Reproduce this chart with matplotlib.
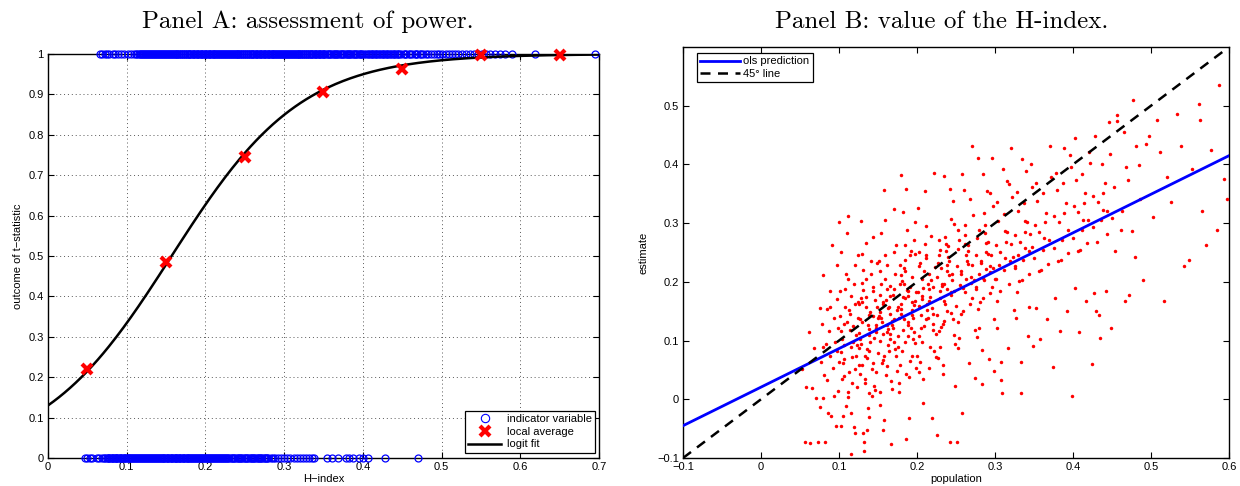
import matplotlib
matplotlib.use("Agg")
import matplotlib.pyplot as plt
import numpy as np
from matplotlib.lines import Line2D

plt.rcParams['font.family'] = ['Liberation Sans', 'DejaVu Sans']
plt.rcParams['font.size'] = 8

# ---------------- Panel A data ----------------
# H-index values of the indicator variable observed at 1 (rejections)
ind_one_x = [0.066, 0.069, 0.072, 0.075, 0.078, 0.082, 0.085, 0.089, 0.093, 0.097,
             0.101, 0.105, 0.109, 0.112, 0.115, 0.118, 0.121, 0.123, 0.126, 0.128,
             0.131, 0.134, 0.136, 0.139, 0.141, 0.144, 0.146, 0.149, 0.151, 0.154,
             0.156, 0.159, 0.161, 0.164, 0.166, 0.169, 0.171, 0.174, 0.176, 0.179,
             0.181, 0.184, 0.186, 0.189, 0.191, 0.194, 0.196, 0.199, 0.201, 0.204,
             0.206, 0.209, 0.211, 0.214, 0.216, 0.219, 0.221, 0.224, 0.226, 0.229,
             0.231, 0.234, 0.236, 0.239, 0.241, 0.244, 0.246, 0.249, 0.251, 0.254,
             0.256, 0.259, 0.261, 0.264, 0.266, 0.269, 0.271, 0.274, 0.276, 0.279,
             0.281, 0.284, 0.286, 0.289, 0.291, 0.294, 0.296, 0.299, 0.301, 0.304,
             0.306, 0.309, 0.311, 0.314, 0.316, 0.319, 0.321, 0.324, 0.326, 0.329,
             0.331, 0.334, 0.336, 0.339, 0.341, 0.344, 0.346, 0.349, 0.351, 0.354,
             0.357, 0.36, 0.363, 0.366, 0.369, 0.372, 0.375, 0.378, 0.381, 0.384,
             0.387, 0.39, 0.393, 0.396, 0.399, 0.402, 0.406, 0.41, 0.413, 0.417,
             0.42, 0.424, 0.427, 0.431, 0.434, 0.438, 0.441, 0.445, 0.448, 0.452,
             0.455, 0.459, 0.462, 0.466, 0.469, 0.473, 0.476, 0.48, 0.483, 0.487,
             0.49, 0.494, 0.497, 0.501, 0.505, 0.509, 0.513, 0.517, 0.521, 0.526,
             0.531, 0.536, 0.541, 0.546, 0.551, 0.556, 0.561, 0.568, 0.574, 0.581,
             0.59, 0.619, 0.695,
             0.1135, 0.1165, 0.1195, 0.122, 0.1245, 0.127, 0.1295, 0.132, 0.1345, 0.137,
             0.1395, 0.142, 0.1445, 0.147, 0.1495, 0.152, 0.1545, 0.157, 0.1595, 0.162,
             0.1645, 0.167, 0.1695, 0.172, 0.1745, 0.177, 0.1795, 0.182, 0.1845, 0.187,
             0.1895, 0.192, 0.1945, 0.197, 0.1995, 0.202, 0.2045, 0.207, 0.2095, 0.212,
             0.2145, 0.217, 0.2195, 0.222, 0.2245, 0.227, 0.2295, 0.232, 0.2345, 0.237,
             0.2395, 0.242, 0.2445, 0.247, 0.2495, 0.252, 0.2545, 0.257, 0.2595, 0.262,
             0.2645, 0.267, 0.2695, 0.272, 0.2745, 0.277, 0.2795, 0.282, 0.2845, 0.287,
             0.2895, 0.292, 0.2945, 0.297, 0.2995, 0.302, 0.3045, 0.307, 0.3095, 0.312,
             0.3145, 0.317, 0.3195, 0.322, 0.3245, 0.327, 0.3295, 0.332, 0.3345, 0.337,
             0.3395, 0.342, 0.3445, 0.347, 0.3495, 0.352, 0.3555, 0.3585, 0.3615, 0.3645,
             0.3675, 0.3705, 0.3735, 0.3765, 0.3795, 0.3825, 0.3855, 0.3885, 0.3915, 0.3945,
             0.3975, 0.404, 0.408, 0.4115, 0.415, 0.4185, 0.422, 0.4255, 0.429, 0.4325,
             0.436, 0.4395, 0.443, 0.4465, 0.4535, 0.4605, 0.4675, 0.4745]
# H-index values of the indicator variable observed at 0
ind_zero_x = [0.047, 0.05, 0.053, 0.056, 0.062, 0.065, 0.068, 0.071, 0.073, 0.076,
              0.078, 0.081, 0.083, 0.086, 0.088, 0.091, 0.093, 0.096, 0.098, 0.101,
              0.103, 0.106, 0.108, 0.111, 0.113, 0.116, 0.118, 0.121, 0.123, 0.126,
              0.128, 0.131, 0.133, 0.136, 0.138, 0.141, 0.143, 0.146, 0.148, 0.151,
              0.153, 0.156, 0.158, 0.161, 0.163, 0.166, 0.168, 0.171, 0.173, 0.176,
              0.178, 0.181, 0.183, 0.186, 0.188, 0.191, 0.193, 0.196, 0.198, 0.201,
              0.203, 0.206, 0.208, 0.211, 0.213, 0.216, 0.218, 0.221, 0.223, 0.226,
              0.229, 0.232, 0.235, 0.238, 0.241, 0.244, 0.247, 0.25, 0.253, 0.256,
              0.259, 0.262, 0.265, 0.268, 0.271, 0.274, 0.277, 0.28, 0.283, 0.286,
              0.289, 0.292, 0.296, 0.3, 0.304, 0.308, 0.312, 0.316, 0.32, 0.324,
              0.328, 0.332, 0.335, 0.338, 0.355, 0.361, 0.368, 0.378, 0.382, 0.388,
              0.395, 0.4, 0.406, 0.428, 0.47,
              0.0745, 0.077, 0.0795, 0.082, 0.0845, 0.087, 0.0895, 0.092, 0.0945, 0.097,
              0.0995, 0.102, 0.1045, 0.107, 0.1095, 0.112, 0.1145, 0.117, 0.1195, 0.122,
              0.1245, 0.127, 0.1295, 0.132, 0.1345, 0.137, 0.1395, 0.142, 0.1445, 0.147,
              0.1495, 0.152, 0.1545, 0.157, 0.1595, 0.162, 0.1645, 0.167, 0.1695, 0.172,
              0.1745, 0.177, 0.1795, 0.182, 0.1845, 0.187, 0.1895, 0.192, 0.1945, 0.197,
              0.1995, 0.202, 0.2045, 0.207, 0.2095, 0.212, 0.2145, 0.217, 0.2195, 0.222,
              0.2245, 0.2275, 0.2305, 0.2335, 0.2365, 0.2395, 0.2425, 0.2455, 0.2485, 0.2515,
              0.2545, 0.2575, 0.2605, 0.2635, 0.2665, 0.2695, 0.2725, 0.2755, 0.2785]

local_x = [0.05, 0.15, 0.25, 0.35, 0.45, 0.55, 0.65]
local_avg = [0.22, 0.484, 0.746, 0.905, 0.962, 0.998, 0.998]

# logit fit coefficients: p = 1 / (1 + exp(-(a + b*h)))
logit_a = -1.90
logit_b = 12.1

# ---------------- Panel B data ----------------
population = [
    0.053, 0.056, 0.058, 0.061, 0.063, 0.066, 0.068, 0.071, 0.073, 0.075,
    0.076, 0.077, 0.078, 0.079, 0.080, 0.081, 0.082, 0.083, 0.084, 0.085,
    0.086, 0.087, 0.088, 0.089, 0.090, 0.091, 0.092, 0.093, 0.094, 0.095,
    0.096, 0.097, 0.097, 0.098, 0.099, 0.099, 0.100, 0.100, 0.088, 0.079,
    0.101, 0.104, 0.102, 0.108, 0.106, 0.111, 0.103, 0.114, 0.109, 0.117,
    0.112, 0.119, 0.105, 0.121, 0.107, 0.123, 0.115, 0.110, 0.118, 0.124,
    0.102, 0.116, 0.113, 0.120, 0.105, 0.122, 0.108, 0.125, 0.111, 0.119,
    0.103, 0.115, 0.121, 0.107, 0.124, 0.110, 0.117, 0.101, 0.113, 0.122,
    0.106, 0.118, 0.112, 0.124, 0.104, 0.120, 0.109, 0.116, 0.123, 0.114,
    0.126, 0.131, 0.128, 0.136, 0.133, 0.141, 0.138, 0.144, 0.129, 0.147,
    0.132, 0.149, 0.127, 0.139, 0.135, 0.146, 0.130, 0.143, 0.137, 0.150,
    0.128, 0.134, 0.142, 0.126, 0.148, 0.139, 0.131, 0.145, 0.136, 0.140,
    0.133, 0.127, 0.144, 0.138, 0.130, 0.147, 0.135, 0.142, 0.129, 0.149,
    0.137, 0.125, 0.143, 0.132, 0.146, 0.128, 0.140, 0.134, 0.148, 0.139,
    0.131, 0.145, 0.127, 0.141, 0.136, 0.150, 0.133, 0.144, 0.129, 0.138,
    0.151, 0.156, 0.153, 0.161, 0.158, 0.166, 0.163, 0.171, 0.168, 0.174,
    0.154, 0.169, 0.152, 0.164, 0.159, 0.172, 0.157, 0.167, 0.162, 0.175,
    0.155, 0.160, 0.170, 0.153, 0.165, 0.173, 0.158, 0.163, 0.151, 0.168,
    0.157, 0.171, 0.162, 0.154, 0.166, 0.159, 0.174, 0.152, 0.169, 0.161,
    0.164, 0.156, 0.172, 0.160, 0.167, 0.153, 0.170, 0.158, 0.165, 0.155,
    0.159, 0.168, 0.152, 0.173, 0.163, 0.157, 0.166, 0.171, 0.154, 0.161,
    0.176, 0.181, 0.178, 0.186, 0.183, 0.191, 0.188, 0.196, 0.193, 0.199,
    0.179, 0.194, 0.177, 0.189, 0.184, 0.197, 0.182, 0.192, 0.187, 0.200,
    0.180, 0.185, 0.195, 0.178, 0.190, 0.198, 0.183, 0.188, 0.176, 0.193,
    0.182, 0.196, 0.187, 0.179, 0.191, 0.184, 0.199, 0.177, 0.194, 0.186,
    0.189, 0.181, 0.197, 0.185, 0.192, 0.178, 0.195, 0.183, 0.190, 0.180,
    0.184, 0.193, 0.177, 0.198, 0.188, 0.182, 0.191, 0.196, 0.179, 0.186,
    0.201, 0.206, 0.203, 0.211, 0.208, 0.216, 0.213, 0.221, 0.218, 0.224,
    0.204, 0.219, 0.202, 0.214, 0.209, 0.222, 0.207, 0.217, 0.212, 0.225,
    0.205, 0.210, 0.220, 0.203, 0.215, 0.223, 0.208, 0.213, 0.201, 0.218,
    0.207, 0.221, 0.212, 0.204, 0.216, 0.209, 0.224, 0.202, 0.219, 0.211,
    0.214, 0.206, 0.222, 0.210, 0.217, 0.203, 0.220, 0.208, 0.215, 0.205,
    0.226, 0.231, 0.228, 0.236, 0.233, 0.241, 0.238, 0.246, 0.243, 0.249,
    0.229, 0.244, 0.227, 0.239, 0.234, 0.247, 0.232, 0.242, 0.237, 0.250,
    0.230, 0.235, 0.245, 0.228, 0.240, 0.248, 0.233, 0.238, 0.226, 0.243,
    0.232, 0.246, 0.237, 0.229, 0.241, 0.234, 0.249, 0.227, 0.244, 0.236,
    0.239, 0.231, 0.247, 0.235, 0.242, 0.228, 0.245, 0.233, 0.240, 0.230,
    0.251, 0.256, 0.253, 0.261, 0.258, 0.266, 0.263, 0.271, 0.268, 0.274,
    0.254, 0.269, 0.252, 0.264, 0.259, 0.272, 0.257, 0.267, 0.262, 0.275,
    0.255, 0.260, 0.270, 0.253, 0.265, 0.273, 0.258, 0.263, 0.251, 0.268,
    0.257, 0.271, 0.262, 0.254, 0.266, 0.259, 0.274, 0.252, 0.269, 0.261,
    0.276, 0.281, 0.278, 0.286, 0.283, 0.291, 0.288, 0.296, 0.293, 0.299,
    0.279, 0.294, 0.277, 0.289, 0.284, 0.297, 0.282, 0.292, 0.287, 0.300,
    0.280, 0.285, 0.295, 0.278, 0.290, 0.298, 0.283, 0.288, 0.276, 0.293,
    0.282, 0.296, 0.287, 0.279, 0.291, 0.284, 0.299, 0.277, 0.294, 0.286,
    0.301, 0.306, 0.303, 0.311, 0.308, 0.316, 0.313, 0.321, 0.318, 0.324,
    0.304, 0.319, 0.302, 0.314, 0.309, 0.322, 0.307, 0.317, 0.312, 0.325,
    0.305, 0.310, 0.320, 0.303, 0.315, 0.323, 0.308, 0.313, 0.301, 0.318,
    0.326, 0.331, 0.328, 0.336, 0.333, 0.341, 0.338, 0.346, 0.343, 0.349,
    0.329, 0.344, 0.327, 0.339, 0.334, 0.347, 0.332, 0.342, 0.337, 0.350,
    0.330, 0.335, 0.345, 0.328, 0.340, 0.348, 0.333, 0.338, 0.326, 0.343,
    0.351, 0.356, 0.353, 0.361, 0.358, 0.366, 0.363, 0.371, 0.368, 0.374,
    0.354, 0.369, 0.352, 0.364, 0.359, 0.372, 0.357, 0.367, 0.362, 0.375,
    0.376, 0.381, 0.378, 0.386, 0.383, 0.391, 0.388, 0.396, 0.393, 0.399,
    0.379, 0.394, 0.377, 0.389, 0.384, 0.397, 0.382, 0.392, 0.387, 0.400,
    0.401, 0.406, 0.403, 0.411, 0.408, 0.416, 0.413, 0.421, 0.418, 0.424,
    0.404, 0.419, 0.402, 0.414, 0.409, 0.422, 0.407, 0.417, 0.412, 0.425,
    0.426, 0.431, 0.428, 0.436, 0.433, 0.441, 0.438, 0.446, 0.443, 0.449,
    0.427, 0.444, 0.429, 0.439, 0.434, 0.447, 0.432, 0.442, 0.437, 0.450,
    0.452, 0.457, 0.461, 0.465, 0.468, 0.472, 0.477, 0.481, 0.486, 0.490,
    0.454, 0.456, 0.463, 0.467, 0.470, 0.475, 0.479, 0.484, 0.494, 0.498,
    0.503, 0.508, 0.512, 0.517, 0.520, 0.526, 0.533, 0.539, 0.542, 0.549,
    0.553, 0.561, 0.563, 0.565, 0.571, 0.577, 0.585, 0.587, 0.594, 0.598,
]
estimate = [
    0.052, -0.073, 0.021, 0.115, -0.074, 0.019, 0.087, 0.002, -0.073, 0.156,
    -0.013, 0.064, 0.128, 0.002, 0.211, 0.041, -0.072, 0.095, 0.153, 0.033,
    -0.023, 0.117, 0.185, 0.073, -0.028, 0.262, 0.054, 0.139, 0.006, 0.098,
    -0.046, 0.171, 0.083, 0.228, 0.014, 0.121, 0.063, 0.302, 0.158, 0.089,
    0.142, 0.035, -0.046, 0.187, 0.093, 0.004, 0.251, 0.118, -0.012, 0.072,
    0.205, -0.047, 0.061, 0.163, 0.128, 0.021, -0.093, 0.283, 0.097, 0.138,
    0.081, 0.176, 0.046, 0.229, -0.028, 0.109, 0.157, 0.058, 0.013, 0.196,
    0.117, 0.089, -0.058, 0.068, 0.245, 0.132, 0.027, 0.184, 0.152, 0.074,
    0.039, 0.124, 0.312, 0.166, 0.102, 0.051, 0.214, -0.024, 0.093, 0.145,
    0.113, -0.057, 0.172, 0.086, 0.027, 0.236, 0.144, 0.062, 0.198, 0.121,
    -0.088, 0.157, 0.043, 0.109, 0.267, 0.015, 0.131, 0.184, -0.014, 0.078,
    0.095, 0.205, 0.052, 0.163, 0.127, -0.031, 0.221, 0.104, 0.071, 0.149,
    0.034, 0.136, 0.191, 0.083, 0.248, 0.115, 0.175, 0.006, 0.058, 0.232,
    0.126, 0.088, 0.142, -0.073, 0.169, 0.304, 0.098, 0.157, 0.047, 0.119,
    0.186, 0.022, 0.102, 0.213, -0.052, 0.139, 0.074, 0.276, 0.165, 0.011,
    0.142, 0.067, 0.218, 0.115, -0.035, 0.176, 0.093, 0.251, 0.134, 0.048,
    0.197, 0.121, 0.012, 0.158, 0.306, 0.085, 0.163, -0.076, 0.229, 0.107,
    0.131, 0.041, 0.188, 0.099, 0.146, 0.262, 0.074, 0.119, 0.235, 0.017,
    0.166, 0.137, 0.057, 0.284, 0.102, 0.205, 0.152, -0.009, 0.178, 0.127,
    0.083, 0.111, 0.214, 0.169, 0.031, 0.148, 0.097, 0.357, 0.193, 0.061,
    0.245, 0.126, 0.178, 0.073, 0.156, -0.052, 0.112, 0.324, 0.139, 0.187,
    0.157, 0.083, 0.229, -0.068, 0.136, 0.192, 0.108, 0.271, 0.165, 0.054,
    0.212, 0.143, 0.028, 0.176, 0.098, 0.247, 0.319, 0.121, 0.186, 0.073,
    0.145, 0.262, 0.102, 0.197, 0.038, 0.168, 0.223, 0.131, 0.089, 0.208,
    0.174, 0.115, 0.289, 0.154, 0.066, 0.238, 0.183, 0.012, 0.152, 0.358,
    0.127, 0.201, 0.096, 0.172, 0.253, 0.058, 0.139, 0.196, -0.032, 0.163,
    0.218, 0.074, 0.138, 0.302, 0.185, 0.118, 0.246, 0.161, 0.382, 0.043,
    0.183, 0.097, 0.251, 0.136, -0.006, 0.213, 0.162, 0.118, 0.278, 0.072,
    0.232, 0.155, 0.047, 0.196, 0.124, 0.386, 0.171, 0.089, 0.241, -0.061,
    0.143, 0.264, 0.191, 0.108, 0.167, 0.226, 0.034, 0.152, 0.326, 0.203,
    0.176, 0.129, 0.295, 0.063, 0.187, 0.218, 0.112, 0.159, -0.032, 0.245,
    0.138, 0.205, 0.082, 0.355, 0.174, 0.227, 0.146, 0.189, 0.054, 0.121,
    0.208, 0.123, 0.271, 0.162, 0.043, 0.236, 0.187, 0.338, 0.147, 0.095,
    0.255, 0.182, 0.071, 0.219, 0.134, 0.298, 0.196, -0.072, 0.265, 0.159,
    0.172, 0.381, 0.213, 0.116, 0.243, 0.184, 0.058, 0.228, 0.143, 0.307,
    0.193, 0.137, 0.253, 0.089, 0.211, 0.167, 0.023, 0.232, 0.178, 0.276,
    0.151, 0.224, 0.109, 0.197, 0.359, 0.246, 0.203, 0.128, 0.261, 0.185,
    0.227, 0.146, 0.289, 0.183, -0.023, 0.252, 0.205, 0.432, 0.163, 0.118,
    0.271, 0.198, 0.087, 0.236, 0.151, 0.314, 0.213, 0.061, 0.279, 0.187,
    0.194, 0.357, 0.228, 0.132, 0.262, 0.204, 0.384, 0.246, -0.073, 0.341,
    0.218, 0.172, 0.265, 0.104, 0.231, 0.189, 0.037, 0.256, 0.209, 0.296,
    0.245, 0.166, 0.411, 0.203, 0.084, 0.268, 0.222, 0.411, 0.181, 0.136,
    0.288, 0.217, 0.106, 0.251, 0.172, 0.329, 0.232, 0.069, 0.297, 0.205,
    0.213, 0.384, 0.246, 0.153, 0.355, 0.223, 0.026, 0.266, 0.192, 0.351,
    0.236, 0.191, 0.283, 0.122, 0.248, 0.207, 0.049, 0.275, 0.227, 0.317,
    0.262, 0.184, 0.336, 0.221, 0.033, 0.285, 0.241, 0.428, 0.196, 0.152,
    0.304, 0.236, 0.121, 0.268, 0.011, 0.345, 0.251, 0.088, 0.316, 0.223,
    0.229, 0.392, 0.264, 0.168, 0.372, 0.242, 0.063, 0.287, 0.205, 0.367,
    0.279, 0.201, 0.353, 0.238, 0.063, 0.302, 0.257, 0.401, 0.214, 0.091,
    0.321, 0.253, 0.138, 0.285, 0.204, 0.362, 0.268, 0.107, 0.334, 0.241,
    0.246, 0.409, 0.282, 0.183, 0.388, 0.259, 0.011, 0.304, 0.227, 0.158,
    0.296, 0.218, 0.369, 0.255, 0.103, 0.318, 0.274, 0.432, 0.231, 0.055,
    0.338, 0.272, 0.156, 0.302, 0.221, 0.379, 0.285, 0.136, 0.351, 0.258,
    0.313, 0.236, 0.386, 0.272, 0.116, 0.335, 0.428, 0.416, 0.249, 0.006,
    0.356, 0.289, 0.173, 0.318, 0.238, 0.396, 0.302, 0.151, 0.368, 0.275,
    0.329, 0.252, 0.445, 0.288, 0.115, 0.351, 0.306, 0.421, 0.266, 0.060,
    0.373, 0.306, 0.189, 0.335, 0.255, 0.403, 0.319, 0.167, 0.384, 0.293,
    0.346, 0.268, 0.449, 0.305, 0.144, 0.368, 0.323, 0.472, 0.282, 0.121,
    0.181, 0.321, 0.151, 0.352, 0.104, 0.418, 0.336, 0.184, 0.401, 0.309,
    0.362, 0.484, 0.288, 0.455, 0.396, 0.178, 0.510, 0.432, 0.341, 0.203,
    0.252, 0.474, 0.321, 0.167, 0.374, 0.287, 0.243, 0.399, 0.435, 0.449,
    0.311, 0.476, 0.421, 0.167, 0.379, 0.336, 0.486, 0.431, 0.227, 0.237,
    0.392, 0.503, 0.476, 0.321, 0.263, 0.425, 0.288, 0.535, 0.375, 0.341,
]

# ols prediction line: estimate = ols_a + ols_b * population
ols_a = 0.0207
ols_b = 0.657

W, H = 1240, 486
fig = plt.figure(figsize=(W / 100, H / 100), dpi=100)
axA = fig.add_axes([48 / W, 28 / H, 551 / W, 404 / H])
axB = fig.add_axes([683 / W, 28 / H, 546 / W, 411 / H])

# ---------- Panel A ----------
axA.plot(ind_one_x, np.ones(len(ind_one_x)), 'o', mfc='none', mec='blue',
         ms=5, mew=0.9, clip_on=False, zorder=3)
axA.plot(ind_zero_x, np.zeros(len(ind_zero_x)), 'o', mfc='none', mec='blue',
         ms=5, mew=0.9, clip_on=False, zorder=3)
h = np.linspace(0, 0.7, 300)
axA.plot(h, 1 / (1 + np.exp(-(logit_a + logit_b * h))), color='k', lw=1.8, zorder=4)
axA.plot(local_x, local_avg, 'x', color='red', ms=7, mew=3, clip_on=False, zorder=5)

axA.set_xlim(0, 0.7)
axA.set_ylim(0, 1)
axA.set_xticks(np.arange(0, 0.71, 0.1))
axA.set_xticklabels(['0', '0.1', '0.2', '0.3', '0.4', '0.5', '0.6', '0.7'])
axA.set_yticks(np.arange(0, 1.01, 0.1))
axA.set_yticklabels(['0', '0.1', '0.2', '0.3', '0.4', '0.5', '0.6', '0.7', '0.8', '0.9', '1'])
axA.grid(True, color='0.35', linestyle=(0, (1, 3)), lw=0.7)
axA.set_xlabel('H\u2212index', labelpad=1)
axA.set_ylabel('outcome of t\u2212statistic', labelpad=4)

hA = [Line2D([], [], ls='none', marker='o', mfc='none', mec='blue', ms=6, mew=0.8),
      Line2D([], [], ls='none', marker='x', color='red', ms=7, mew=3),
      Line2D([], [], color='k', lw=1.8)]
legA = axA.legend(hA, ['indicator variable', 'local average', 'logit fit'],
                  loc='lower right', bbox_to_anchor=(0.993, 0.013), borderaxespad=0,
                  fancybox=False, edgecolor='k', framealpha=1, fontsize=8,
                  handlelength=3, labelspacing=0.25, borderpad=0.3, handletextpad=0.5)
legA.get_frame().set_linewidth(0.9)

# ---------- Panel B ----------
axB.plot(population, estimate, 'o', color='red', ms=2.5, mew=0, zorder=3)
line_x = np.array([-0.1, 0.6])
axB.plot(line_x, ols_a + ols_b * line_x, color='blue', lw=2, zorder=4, label='ols prediction')
axB.plot(line_x, line_x, color='k', lw=1.8, ls=(0, (4, 3)), zorder=4, label='45\u00b0 line')
axB.set_xlim(-0.1, 0.6)
axB.set_ylim(-0.1, 0.6)
axB.set_xticks(np.arange(-0.1, 0.61, 0.1))
axB.set_xticklabels(['\u22120.1', '0', '0.1', '0.2', '0.3', '0.4', '0.5', '0.6'])
axB.set_yticks(np.arange(-0.1, 0.51, 0.1))
axB.set_yticklabels(['\u22120.1', '0', '0.1', '0.2', '0.3', '0.4', '0.5'])
axB.set_xlabel('population', labelpad=1)
axB.set_ylabel('estimate', labelpad=6)
legB = axB.legend(loc='upper left', bbox_to_anchor=(0.025, 0.985), borderaxespad=0,
                  fancybox=False, edgecolor='k', framealpha=1, fontsize=8,
                  handlelength=3.6, labelspacing=0.2, borderpad=0.3, handletextpad=0.3)
legB.get_frame().set_linewidth(0.9)

for ax in (axA, axB):
    ax.tick_params(direction='in', top=True, right=True, length=4, width=0.8,
                   labelsize=8, pad=3)
    for s in ax.spines.values():
        s.set_linewidth(1.0)

# titles in a TeX-like serif
fig.text(308 / W, 1 - 28 / H, 'Panel A: assessment of power.', ha='center',
         va='baseline', family='cmr10', fontsize=18)
fig.text(942 / W, 1 - 28 / H, 'Panel B: value of the H-index.', ha='center',
         va='baseline', family='cmr10', fontsize=18)

fig.savefig('out.png', dpi=100)
